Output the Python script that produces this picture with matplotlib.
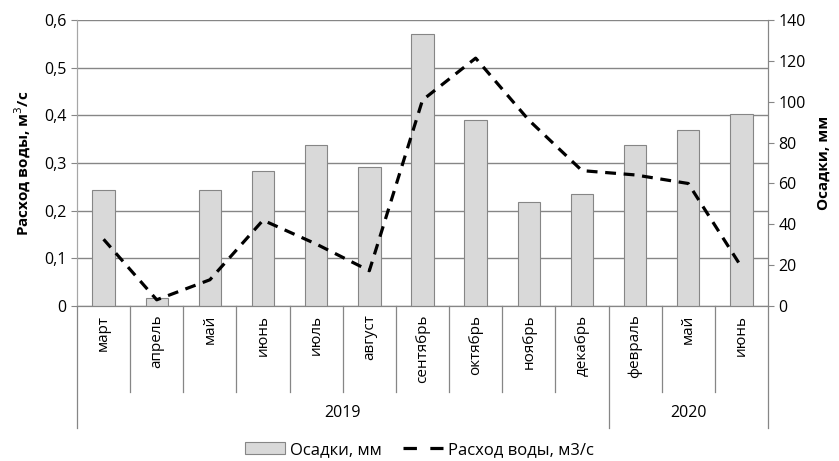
import numpy as np
import matplotlib.pyplot as plt
from matplotlib.patches import Patch
from matplotlib.lines import Line2D
from matplotlib.ticker import FuncFormatter, MultipleLocator

plt.rcParams['font.family'] = ['Open Sans', 'DejaVu Sans']

months = ['март', 'апрель', 'май', 'июнь', 'июль', 'август', 'сентябрь',
          'октябрь', 'ноябрь', 'декабрь', 'февраль', 'май', 'июнь']
years = ['2019', '2020']
year_counts = [10, 3]

precip = [57, 4, 57, 66, 79, 68, 133, 91, 51, 55, 79, 86, 94]  # Осадки, мм
flow = [0.14, 0.013, 0.055, 0.18, 0.13, 0.074, 0.432, 0.52, 0.39, 0.284,
        0.275, 0.257, 0.082]  # Расход воды, м3/с

grey = '#868686'
fs = 11

fig = plt.figure(figsize=(8.39, 4.61), dpi=100)
ax_l = fig.add_axes([77 / 839, 1 - 306 / 461, 691 / 839, 286 / 461])
ax_r = ax_l.twinx()

x = np.arange(len(months))

# left axis: water flow, with the grid
ax_l.set_xlim(-0.5, len(months) - 0.5)
ax_l.set_ylim(0, 0.6)
ax_l.yaxis.set_major_locator(MultipleLocator(0.1))
ax_l.yaxis.set_major_formatter(FuncFormatter(
    lambda v, p: '0' if abs(v) < 1e-9 else ('%.1f' % v).replace('.', ',')))
ax_l.grid(axis='y', color=grey, lw=1)
ax_l.set_axisbelow(True)
ax_l.set_xticks([])
ax_l.tick_params(axis='y', direction='out', length=4, color=grey, labelsize=fs + 0.5)
ax_l.set_ylabel('Расход воды, м$^3$/с', fontsize=fs, fontweight='bold', labelpad=8)

# right axis: precipitation bars
ax_r.set_ylim(0, 140)
ax_r.yaxis.set_major_locator(MultipleLocator(20))
ax_r.tick_params(axis='y', direction='out', length=4, color=grey, labelsize=fs + 0.5)
ax_r.set_ylabel('Осадки, мм', fontsize=fs, fontweight='bold', labelpad=8)
ax_r.bar(x, precip, width=0.42, color='#d9d9d9', edgecolor=grey, linewidth=0.8, zorder=2)

# dashed line drawn over the bars, in the left axis scale
ax_r.plot(x, flow, transform=ax_l.transData, color='black', lw=2.3,
          dashes=(3.4, 2.4), zorder=3)

for a in (ax_l, ax_r):
    a.spines['top'].set_visible(False)
    a.spines['left'].set_color('#a6a6a6')
    a.spines['right'].set_color(grey)
    a.spines['bottom'].set_color(grey)

# two-level category axis
trans = ax_l.get_xaxis_transform()
month_bottom = -0.30
year_bottom = -0.427
edges = [0]
for c in year_counts:
    edges.append(edges[-1] + c)
for i in range(len(months) + 1):
    deep = i in edges
    ax_l.plot([i - 0.5, i - 0.5], [0, year_bottom if deep else month_bottom],
              transform=trans, color=grey, lw=0.9, clip_on=False)
for i, m in enumerate(months):
    ax_l.text(i, -0.03, m, transform=trans, rotation=90, ha='center', va='top', fontsize=fs)
for k, y in enumerate(years):
    mid = (edges[k] + edges[k + 1] - 1) / 2
    ax_l.text(mid, -0.374, y, transform=trans, ha='center', va='center', fontsize=fs + 0.5)

handles = [Patch(facecolor='#d9d9d9', edgecolor=grey, linewidth=0.8),
           Line2D([], [], color='black', lw=2.3, dashes=(4.2, 4.2))]
fig.legend(handles, ['Осадки, мм', 'Расход воды, м3/с'], loc='center',
           bbox_to_anchor=(0.5, 1 - 450 / 461), ncol=2, frameon=False,
           fontsize=fs + 1, handlelength=2.4, handletextpad=0.3, columnspacing=1.3)

fig.savefig('out.png', dpi=100)
